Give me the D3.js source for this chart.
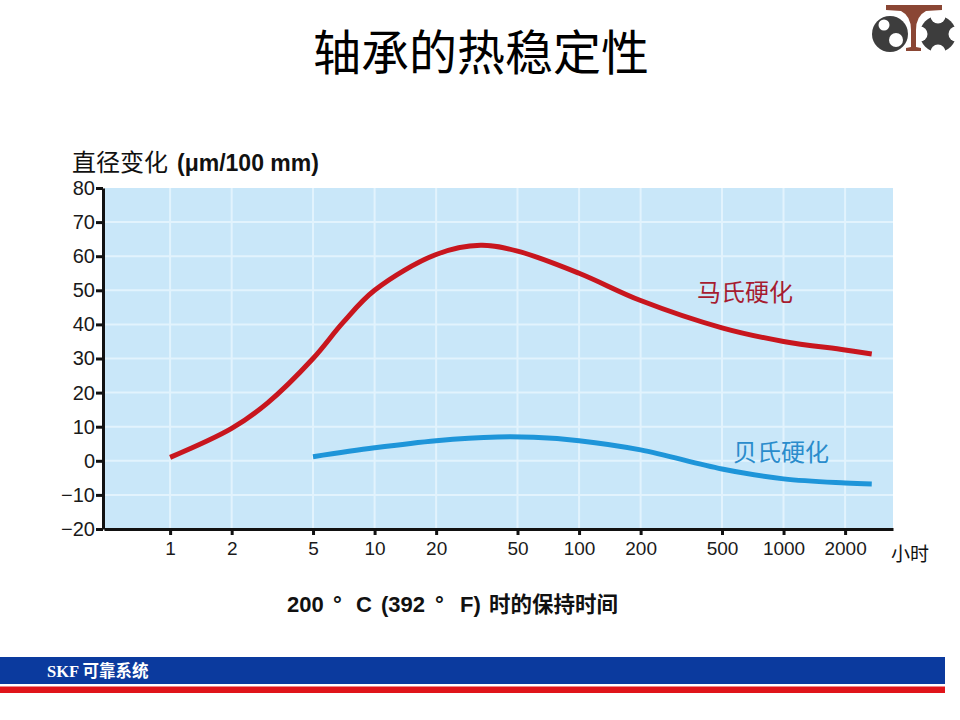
<!DOCTYPE html>
<html>
<head>
<meta charset="utf-8">
<script src="https://cdn.jsdelivr.net/npm/d3@7"></script>
<style>
  body { margin: 0; background: #fff; }
  svg { display: block; }
</style>
</head>
<body>
<div id="chart"></div>
<script>
// data
var xTicks = [1, 2, 5, 10, 20, 50, 100, 200, 500, 1000, 2000];
var yTicks = [-20, -10, 0, 10, 20, 30, 40, 50, 60, 70, 80];

var martHours = [1, 2, 3, 5, 7, 10, 20, 33, 50, 100, 200, 500, 1000, 2000, 2700];
var martValues = [1, 9.5, 17, 30, 40.5, 50, 60.5, 63.2, 61.5, 55, 47, 39, 35, 32.5, 31.3];

var baiHours = [5, 10, 20, 40, 60, 100, 200, 500, 1000, 2000, 2700];
var baiValues = [1.2, 3.8, 5.9, 7, 6.9, 5.9, 3.2, -2.4, -5.3, -6.5, -6.8];

const width = 960, height = 720;

var svg = d3.select('#chart').append('svg')
  .attr('width', width)
  .attr('height', height);

var x = d3.scaleLog().domain([0.475, 3430]).range([104, 893]);
var y = d3.scaleLinear().domain([-20, 80]).range([529, 188]);

// title
svg.append('text')
  .attr('x', 481).attr('y', 70)
  .attr('text-anchor', 'middle')
  .style('font-family', '"Noto Sans CJK SC", sans-serif')
  .style('font-size', '48px')
  .attr('fill', '#000')
  .text('轴承的热稳定性');

// plot background + grid
svg.append('rect')
  .attr('x', x.range()[0]).attr('y', y.range()[1])
  .attr('width', x.range()[1] - x.range()[0])
  .attr('height', y.range()[0] - y.range()[1])
  .attr('fill', '#c9e7f9');

var grid = svg.append('g').attr('id', 'grid');
grid.selectAll('line.v').data(xTicks).enter().append('line')
  .attr('x1', function(d){ return x(d) }).attr('x2', function(d){ return x(d) })
  .attr('y1', y.range()[1]).attr('y2', y.range()[0])
  .attr('stroke', '#e2f3fd').attr('stroke-width', 2);
grid.selectAll('line.h').data(yTicks.slice(1, -1)).enter().append('line')
  .attr('y1', function(d){ return y(d) }).attr('y2', function(d){ return y(d) })
  .attr('x1', x.range()[0]).attr('x2', x.range()[1])
  .attr('stroke', '#e2f3fd').attr('stroke-width', 2);

// curves
var line = d3.line()
  .x(function(d){ return x(d[0]) })
  .y(function(d){ return y(d[1]) })
  .curve(d3.curveCatmullRom.alpha(0.5));

svg.append('path')
  .datum(d3.zip(martHours, martValues))
  .attr('d', line)
  .attr('fill', 'none')
  .attr('stroke', '#c8161e')
  .attr('stroke-width', 5);

svg.append('path')
  .datum(d3.zip(baiHours, baiValues))
  .attr('d', line)
  .attr('fill', 'none')
  .attr('stroke', '#1e95d9')
  .attr('stroke-width', 5);

// axes
var xAxis = svg.append('g')
  .attr('transform', 'translate(0,' + y.range()[0] + ')')
  .call(d3.axisBottom(x).tickValues(xTicks).tickFormat(d3.format('d'))
    .tickSize(6).tickSizeOuter(0).tickPadding(7));
var yAxis = svg.append('g')
  .attr('transform', 'translate(' + (x.range()[0] - 1) + ',0)')
  .call(d3.axisLeft(y).tickValues(yTicks).tickSize(7).tickSizeOuter(0).tickPadding(1));

[xAxis, yAxis].forEach(function(ax){
  ax.select('.domain').attr('stroke', '#111').attr('stroke-width', 3);
  ax.selectAll('.tick line').attr('stroke', '#111').attr('stroke-width', 3);
  ax.selectAll('.tick text')
    .attr('fill', '#1a1a1a')
    .style('font-family', '"Liberation Sans", Arial, sans-serif')
    .style('font-size', '19px');
});
yAxis.selectAll('.tick text').style('font-size', '20px');

// axis titles
var yt = svg.append('text')
  .attr('x', 72).attr('y', 171)
  .attr('fill', '#111');
yt.append('tspan')
  .style('font-family', '"Noto Sans CJK SC", sans-serif')
  .style('font-size', '24px')
  .text('直径变化');
yt.append('tspan')
  .attr('x', 177)
  .style('font-family', '"Liberation Sans", Arial, sans-serif')
  .style('font-size', '23px')
  .style('font-weight', 'bold')
  .text('(μm/100 mm)');

svg.append('text')
  .attr('x', 891).attr('y', 561)
  .style('font-family', '"Noto Sans CJK SC", sans-serif')
  .style('font-size', '19px')
  .attr('fill', '#111')
  .text('小时');

// subtitle, pieces spaced like the slide
var subParts = [
  ['200', 287, 'latin'], ['\u00b0', 333, 'latin'], ['C', 356, 'latin'],
  ['(392', 381, 'latin'], ['\u00b0', 435, 'latin'], ['F)', 460, 'latin'],
  ['时的保持时间', 489, 'cjk']
];
var sub = svg.append('text')
  .attr('y', 612)
  .attr('fill', '#111')
  .style('font-weight', 'bold');
subParts.forEach(function(p){
  sub.append('tspan')
    .attr('x', p[1])
    .style('font-family', p[2] == 'cjk' ? '"Noto Sans CJK SC", sans-serif' : '"Liberation Sans", Arial, sans-serif')
    .style('font-size', p[2] == 'cjk' ? '21.5px' : '22px')
    .text(p[0]);
});

// series labels
svg.append('text')
  .attr('x', 745).attr('y', 301)
  .attr('text-anchor', 'middle')
  .style('font-family', '"Noto Sans CJK SC", sans-serif')
  .style('font-size', '24px')
  .attr('fill', '#a61c30')
  .text('马氏硬化');
svg.append('text')
  .attr('x', 781).attr('y', 461)
  .attr('text-anchor', 'middle')
  .style('font-family', '"Noto Sans CJK SC", sans-serif')
  .style('font-size', '24px')
  .attr('fill', '#2a8ccc')
  .text('贝氏硬化');

// footer bands
svg.append('rect').attr('x', 0).attr('y', 657).attr('width', 945).attr('height', 27).attr('fill', '#0b3a9e');
svg.append('rect').attr('x', 0).attr('y', 686.5).attr('width', 945).attr('height', 6.5).attr('fill', '#e0141a');
svg.append('text')
  .attr('x', 47).attr('y', 677)
  .style('font-family', '"Liberation Serif", "Noto Sans CJK SC", serif')
  .style('font-size', '16.5px')
  .style('font-weight', 'bold')
  .attr('fill', '#fff')
  .text('SKF 可靠系统');

// logo, top right
var logo = svg.append('g').attr('id', 'logo');
logo.append('circle').attr('cx', 890).attr('cy', 34).attr('r', 18).attr('fill', '#3d3d3d');
logo.append('circle').attr('cx', 884).attr('cy', 25).attr('r', 5.5).attr('fill', '#fff');
logo.append('circle').attr('cx', 896).attr('cy', 40).attr('r', 7).attr('fill', '#fff');
logo.append('circle').attr('cx', 938).attr('cy', 34).attr('r', 18).attr('fill', '#3d3d3d');
[[938, 16], [938, 52], [920, 34], [956, 34]].forEach(function(p){
  logo.append('circle').attr('cx', p[0]).attr('cy', p[1]).attr('r', 7.5).attr('fill', '#fff');
});
logo.append('path')
  .attr('d', 'M886,5 L942,5 L942,10 L926,11 Q916,16 916,30 L916,47 L921,48 L921,51 L906,51 L906,48 L911,47 L911,30 Q911,16 901,11 L886,10 Z')
  .attr('fill', '#8a4634');
</script>
</body>
</html>
